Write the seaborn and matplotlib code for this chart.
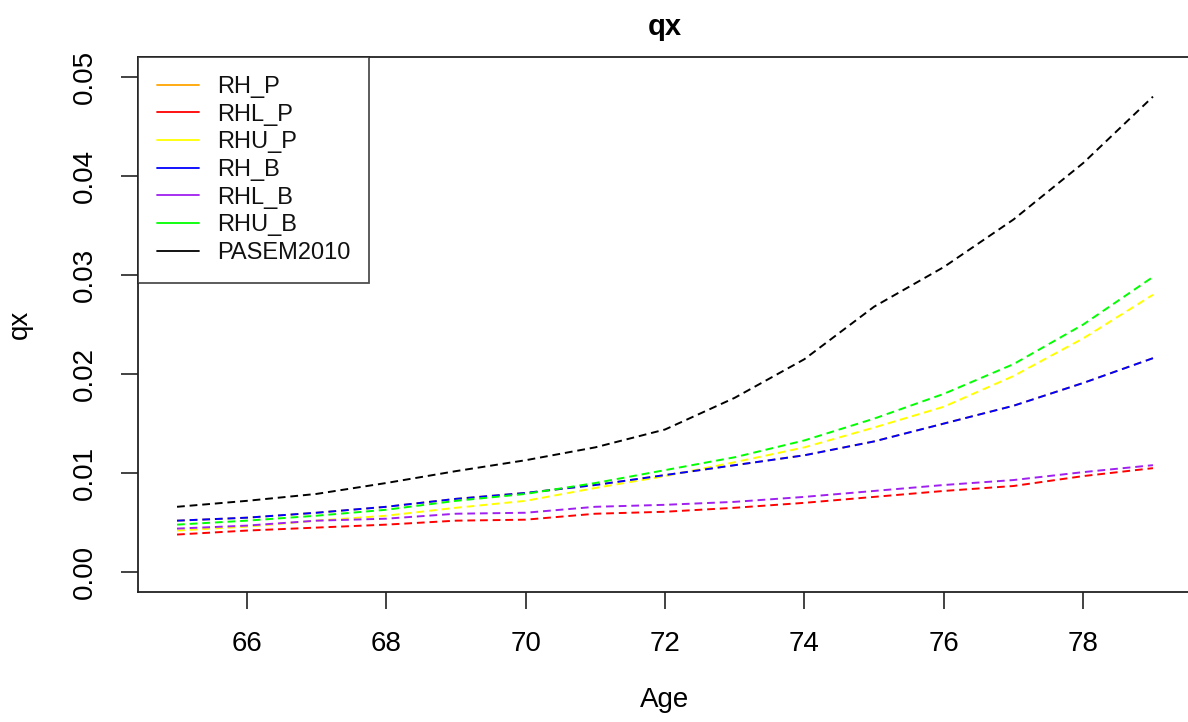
import matplotlib
matplotlib.use("Agg")
import matplotlib.pyplot as plt
from matplotlib.lines import Line2D
import seaborn as sns
import pandas as pd

ages = [65, 66, 67, 68, 69, 70, 71, 72, 73, 74, 75, 76, 77, 78, 79]

rh_b = [0.0052, 0.0055, 0.0060, 0.0066, 0.0074, 0.0080, 0.0088, 0.0098, 0.0108, 0.0118, 0.0132, 0.0150, 0.0168, 0.0191, 0.0216]
rh_p = list(rh_b)
rhl_p = [0.0038, 0.0042, 0.0045, 0.0048, 0.0052, 0.0053, 0.0059, 0.0061, 0.0065, 0.0070, 0.0076, 0.0082, 0.0087, 0.0097, 0.0105]
rhu_p = [0.0042, 0.0046, 0.0052, 0.0057, 0.0065, 0.0072, 0.0085, 0.0097, 0.0111, 0.0126, 0.0146, 0.0167, 0.0198, 0.0236, 0.0280]
rhl_b = [0.0044, 0.0047, 0.0052, 0.0054, 0.0059, 0.0060, 0.0066, 0.0068, 0.0071, 0.0076, 0.0082, 0.0088, 0.0093, 0.0101, 0.0108]
rhu_b = [0.0048, 0.0052, 0.0057, 0.0063, 0.0072, 0.0079, 0.0090, 0.0103, 0.0116, 0.0133, 0.0155, 0.0180, 0.0210, 0.0250, 0.0298]
pasem = [0.0066, 0.0072, 0.0079, 0.0090, 0.0102, 0.0113, 0.0126, 0.0144, 0.0176, 0.0215, 0.0268, 0.0308, 0.0356, 0.0413, 0.0480]

series_names = ["RH_P", "RHL_P", "RHU_P", "RH_B", "RHL_B", "RHU_B", "PASEM2010"]
series_vals = [rh_p, rhl_p, rhu_p, rh_b, rhl_b, rhu_b, pasem]
colors = ["#FFA500", "#FF0000", "#FFFF00", "#0000FF", "#A020F0", "#00FF00", "#000000"]

sns.set_style("white")
plt.rcParams["font.family"] = ["Liberation Sans", "DejaVu Sans"]
plt.rcParams["text.color"] = "black"
plt.rcParams["axes.labelcolor"] = "black"
plt.rcParams["xtick.color"] = "black"
plt.rcParams["ytick.color"] = "black"

fig = plt.figure(figsize=(11.88, 7.22), dpi=100)
ax = fig.add_axes([138 / 1188, 1 - 592 / 722, (1192 - 138) / 1188, (592 - 57) / 722])

for name, vals, c in zip(series_names, series_vals, colors):
    df = pd.DataFrame({"Age": ages, "qx": vals})
    sns.lineplot(data=df, x="Age", y="qx", color=c, ax=ax, linewidth=1.4,
                 linestyle=(0, (4, 2.5)), legend=False)

ax.set_xlim(64.44, 79.56)
ax.set_ylim(-0.002, 0.052)
ax.set_xticks([66, 68, 70, 72, 74, 76, 78])
ax.set_yticks([0.0, 0.01, 0.02, 0.03, 0.04, 0.05])
ax.set_yticklabels(["0.00", "0.01", "0.02", "0.03", "0.04", "0.05"])

for sp in ax.spines.values():
    sp.set_color("#222222")
    sp.set_linewidth(1.3)

ax.tick_params(axis="both", direction="out", length=12, width=1.2, color="#222222",
               labelsize=20, labelcolor="black", bottom=True, left=True)
ax.tick_params(axis="x", pad=16)
ax.tick_params(axis="y", pad=17, labelrotation=90)
for lab in ax.get_yticklabels():
    lab.set_verticalalignment("center")

ax.set_title("qx", fontsize=21, fontweight="bold", pad=16, color="black")
ax.set_xlabel("Age", fontsize=20, labelpad=22, color="black")
ax.set_ylabel("qx", fontsize=20, labelpad=28, color="black")

handles = [Line2D([0], [0], color=c, lw=1.3) for c in colors]
leg = ax.legend(handles, series_names, loc="upper left", bbox_to_anchor=(0, 1),
                borderaxespad=0, fontsize=17, frameon=True, fancybox=False,
                handlelength=1.8, handletextpad=0.75, labelspacing=0.24,
                borderpad=0.8)
leg.get_frame().set_edgecolor("#222222")
leg.get_frame().set_linewidth(1.3)
for t in leg.get_texts():
    t.set_color("#111111")

fig.savefig("out.png", dpi=100)
